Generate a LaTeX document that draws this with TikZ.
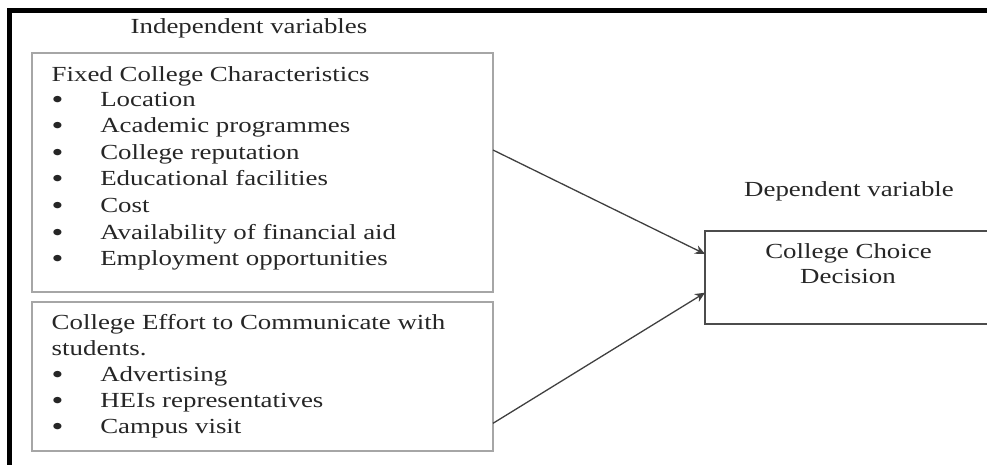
\documentclass[tikz,border=0pt]{standalone}
\usepackage{fontspec}
\setmainfont[FakeStretch=1.25]{Liberation Serif}
\usetikzlibrary{arrows.meta}

\newcommand{\bulmark}{\smash{\raisebox{-2pt}{\fontsize{27pt}{27pt}\selectfont\textbullet}}}
\newcommand{\itemline}[1]{\makebox[48.3pt][l]{\hspace{-0.5pt}\bulmark}#1}

\begin{document}
\begin{tikzpicture}[x=1pt,y=-1pt,
  txt/.style={inner sep=0pt,outer sep=0pt,text=black!85,
    font=\fontsize{21.5pt}{26pt}\selectfont},
  lbl/.style={txt,anchor=base west},
  clbl/.style={txt,anchor=base},
  varbox/.style={draw=black!35,line width=2pt,inner sep=0pt,outer sep=0pt},
  outbox/.style={draw=black!70,line width=2pt,inner sep=0pt,outer sep=0pt},
  link/.style={draw=black!75,line width=1.3pt,-{Stealth[length=10pt,width=9pt]}}]
  \useasboundingbox (0,0) rectangle (987,464);

  % outer frame (only top and left edges fall inside the page)
  \draw[line width=4.5pt,black] (9.5,480) -- (9.5,10.3) -- (1000,10.3);

  % headings
  \node[clbl] (indep) at (249,33) {Independent variables};
  \node[clbl] (dep) at (849,196) {Dependent variable};

  % independent variable boxes
  \node[varbox,minimum width=461pt,minimum height=238.4pt] (fixed) at (262.5,172.5) {};
  \node[varbox,minimum width=461pt,minimum height=148.4pt] (effort) at (262.5,376.5) {};

  % dependent variable box (runs past the right edge of the page)
  \node[outbox,minimum width=295pt,minimum height=93.3pt] (choice) at (852.5,277.35) {};

  % fixed college characteristics
  \node[lbl] (f0) at (51.7,81) {Fixed College Characteristics};
  \node[lbl] (f1) at (52,106.7) {\itemline{Location}};
  \node[lbl] (f2) at (52,132.9) {\itemline{Academic programmes}};
  \node[lbl] (f3) at (52,159.1) {\itemline{College reputation}};
  \node[lbl] (f4) at (52,185.3) {\itemline{Educational facilities}};
  \node[lbl] (f5) at (52,212.3) {\itemline{Cost}};
  \node[lbl] (f6) at (52,239) {\itemline{Availability of financial aid}};
  \node[lbl] (f7) at (52,265.7) {\itemline{Employment opportunities}};

  % college effort to communicate
  \node[lbl] (e0) at (51.7,329.3) {College Effort to Communicate with};
  \node[lbl] (e1) at (51.7,355) {students.};
  \node[lbl] (e2) at (52,381) {\itemline{Advertising}};
  \node[lbl] (e3) at (52,407.3) {\itemline{HEIs representatives}};
  \node[lbl] (e4) at (52,433.3) {\itemline{Campus visit}};

  % dependent variable
  \node[clbl] (c1) at (848.5,258.3) {College Choice};
  \node[clbl] (c2) at (848,283.3) {Decision};

  % connectors
  \draw[link] ([yshift=22.5pt]fixed.east) -- ([yshift=23.35pt]choice.west);
  \draw[link] ([yshift=-46.8pt]effort.east) -- ([yshift=-15.35pt]choice.west);
\end{tikzpicture}
\end{document}
